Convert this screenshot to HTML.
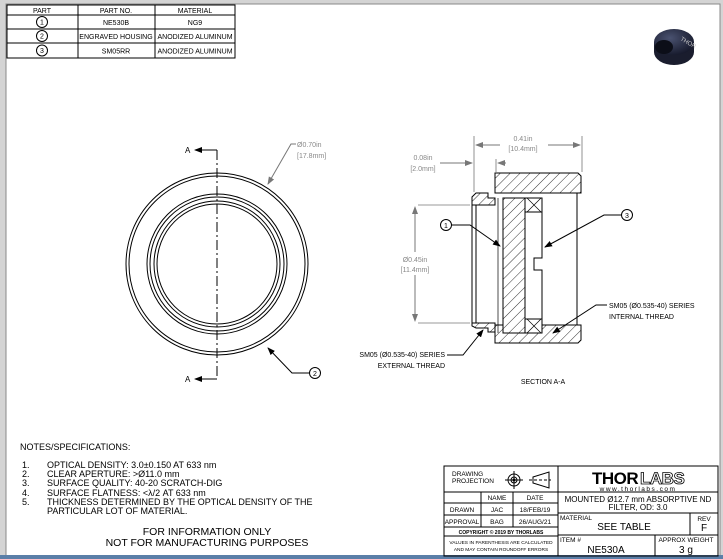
<!DOCTYPE html>
<html><head><meta charset="utf-8"><style>
html,body{margin:0;padding:0;background:#fff}
svg{display:block;font-family:"Liberation Sans",sans-serif}
</style></head><body>
<svg width="723" height="559" viewBox="0 0 723 559" xmlns="http://www.w3.org/2000/svg">
<defs>
<pattern id="h" patternUnits="userSpaceOnUse" width="7" height="7" patternTransform="rotate(45)">
<rect width="7" height="7" fill="#fff"/><line x1="0" y1="0" x2="0" y2="7" stroke="#000" stroke-width="0.8"/></pattern>
<marker id="ar" markerWidth="8" markerHeight="6" refX="7" refY="3" orient="auto" markerUnits="userSpaceOnUse"><path d="M0,0 L8,3 L0,6z" fill="#000"/></marker>
<marker id="ag" markerWidth="8" markerHeight="6" refX="7" refY="3" orient="auto" markerUnits="userSpaceOnUse"><path d="M0,0 L8,3 L0,6z" fill="#777"/></marker>
<radialGradient id="cyl" cx="0.4" cy="0.35" r="0.7"><stop offset="0" stop-color="#4a5270"/><stop offset="1" stop-color="#15182a"/></radialGradient>
</defs>
<rect width="723" height="559" fill="#d4d4d4"/>
<rect x="6" y="4" width="714" height="552" fill="#fff" stroke="#888" stroke-width="1"/>
<rect x="0" y="555" width="723" height="4" fill="#5b7fa8"/>

<g stroke="#000" stroke-width="1" fill="none">
<rect x="7" y="5" width="228" height="53"/>
<line x1="7" y1="15" x2="235" y2="15"/>
<line x1="7" y1="29" x2="235" y2="29"/>
<line x1="7" y1="43" x2="235" y2="43"/>
<line x1="78" y1="5" x2="78" y2="58"/>
<line x1="155" y1="5" x2="155" y2="58"/>
<circle cx="42" cy="22" r="5.5"/><circle cx="42" cy="36" r="5.5"/><circle cx="42" cy="50.5" r="5.5"/>
</g>
<g font-size="7" text-anchor="middle" fill="#000">
<text x="42" y="13">PART</text><text x="116" y="13">PART NO.</text><text x="195" y="13">MATERIAL</text>
<text x="42" y="24.5">1</text><text x="42" y="38.5">2</text><text x="42" y="53">3</text>
<text x="116" y="25">NE530B</text><text x="195" y="25">NG9</text>
<text x="116" y="39">ENGRAVED HOUSING</text><text x="195" y="39">ANODIZED ALUMINUM</text>
<text x="116" y="53.5">SM05RR</text><text x="195" y="53.5">ANODIZED ALUMINUM</text>
</g>

<ellipse cx="674" cy="52" rx="20" ry="13" fill="#1a1d2e"/>
<rect x="654" y="42" width="40" height="10" fill="#1a1d2e"/>
<ellipse cx="674" cy="42" rx="20" ry="13" fill="url(#cyl)"/>
<ellipse cx="664" cy="47" rx="9" ry="7" fill="#0c0e18"/>
<text x="680" y="40" font-size="6" fill="#ccc" transform="rotate(30 680 40)">THOR</text>

<g fill="none" stroke="#000" stroke-width="1">
<circle cx="217" cy="264" r="91"/>
<circle cx="217" cy="264" r="88"/>
<circle cx="217" cy="264" r="70"/>
<circle cx="217" cy="264" r="67"/>
<circle cx="217" cy="264" r="63"/>
<circle cx="217" cy="264" r="60"/>
</g>
<line x1="217" y1="150" x2="217" y2="379" stroke="#000" stroke-width="1" stroke-dasharray="10,3,2,3"/>
<line x1="217" y1="150" x2="195" y2="150" stroke="#000" marker-end="url(#ar)"/>
<line x1="217" y1="379" x2="195" y2="379" stroke="#000" marker-end="url(#ar)"/>
<text x="185" y="153" font-size="8">A</text><text x="185" y="382" font-size="8">A</text>
<polyline points="296,144 291,144 268,184" fill="none" stroke="#777" marker-end="url(#ag)"/>
<text x="297" y="147" font-size="7" fill="#888">Ø0.70in</text>
<text x="297" y="158" font-size="7" fill="#888">[17.8mm]</text>
<polyline points="309,373 292,373 268,348" fill="none" stroke="#000" marker-end="url(#ar)"/>
<circle cx="315" cy="373" r="5.5" fill="#fff" stroke="#000"/>
<text x="315" y="376" font-size="7" text-anchor="middle">2</text>

<g stroke="#000" stroke-width="1">
<path d="M495,173 H578 L581,176 V193 H495z" fill="url(#h)"/>
<path d="M495,325 H581 V340 L578,343 H495z" fill="url(#h)"/>
<path d="M476,193 H488 V198 H495 V205 H472 V197z" fill="url(#h)"/>
<path d="M472,323 H495 V332 H488 V328 H476 L472,326z" fill="url(#h)"/>
<path d="M495,173 V193 M495,325 V343" fill="none"/>
<path d="M503,198 H525 V333 H503z" fill="url(#h)"/>
<path d="M525,198 H542 V258 H534 V270 H542 V333 H525z" fill="#fff"/>
<path d="M527,198 L541,212 M541,198 L527,212 M527,333 L541,319 M541,333 L527,319" fill="none" stroke-width="0.7"/>
<line x1="525" y1="212" x2="542" y2="212"/><line x1="525" y1="319" x2="542" y2="319"/>
<line x1="472" y1="205" x2="472" y2="323"/>
<line x1="476" y1="205" x2="476" y2="323"/>
<line x1="577" y1="193" x2="577" y2="325"/>
<line x1="498" y1="198" x2="498" y2="333" stroke-width="0.7"/>
</g>
<g stroke="#777" stroke-width="0.8" fill="none">
<line x1="474" y1="136" x2="474" y2="192"/>
<line x1="582" y1="136" x2="582" y2="172"/>
<line x1="496" y1="159" x2="496" y2="172"/>
<line x1="418" y1="205" x2="470" y2="205"/>
<line x1="418" y1="323" x2="470" y2="323"/>
</g>
<line x1="500" y1="145" x2="476" y2="145" stroke="#777" marker-end="url(#ag)"/>
<line x1="548" y1="145" x2="580" y2="145" stroke="#777" marker-end="url(#ag)"/>
<text x="523" y="141" font-size="7" fill="#888" text-anchor="middle">0.41in</text>
<text x="523" y="151" font-size="7" fill="#888" text-anchor="middle">[10.4mm]</text>
<line x1="440" y1="163" x2="472" y2="163" stroke="#777" marker-end="url(#ag)"/>
<line x1="506" y1="163" x2="498" y2="163" stroke="#777" marker-end="url(#ag)"/>
<text x="423" y="160" font-size="7" fill="#888" text-anchor="middle">0.08in</text>
<text x="423" y="171" font-size="7" fill="#888" text-anchor="middle">[2.0mm]</text>
<line x1="415" y1="252" x2="415" y2="207" stroke="#777" marker-end="url(#ag)"/>
<line x1="415" y1="275" x2="415" y2="321" stroke="#777" marker-end="url(#ag)"/>
<text x="415" y="262" font-size="7" fill="#888" text-anchor="middle">Ø0.45in</text>
<text x="415" y="272" font-size="7" fill="#888" text-anchor="middle">[11.4mm]</text>
<polyline points="452,225 470,225 500,246" fill="none" stroke="#000" marker-end="url(#ar)"/>
<circle cx="446" cy="225" r="5.5" fill="#fff" stroke="#000"/><text x="446" y="228" font-size="7" text-anchor="middle">1</text>
<polyline points="621,215 604,215 545,247" fill="none" stroke="#000" marker-end="url(#ar)"/>
<circle cx="627" cy="215" r="5.5" fill="#fff" stroke="#000"/><text x="627" y="218" font-size="7" text-anchor="middle">3</text>
<polyline points="607,305 596,305 553,333" fill="none" stroke="#000" marker-end="url(#ar)"/>
<text x="609" y="308" font-size="7">SM05 (Ø0.535-40) SERIES</text>
<text x="609" y="319" font-size="7">INTERNAL THREAD</text>
<polyline points="447,355 463,355 483,330" fill="none" stroke="#000" marker-end="url(#ar)"/>
<text x="445" y="357" font-size="7" text-anchor="end">SM05 (Ø0.535-40) SERIES</text>
<text x="445" y="368" font-size="7" text-anchor="end">EXTERNAL THREAD</text>
<text x="543" y="384" font-size="7" text-anchor="middle">SECTION A-A</text>

<g font-size="9" fill="#000">
<text x="20" y="450">NOTES/SPECIFICATIONS:</text>
<text x="22" y="468">1.</text><text x="47" y="468">OPTICAL DENSITY: 3.0±0.150 AT 633 nm</text>
<text x="22" y="477">2.</text><text x="47" y="477">CLEAR APERTURE: &gt;Ø11.0 mm</text>
<text x="22" y="486">3.</text><text x="47" y="486">SURFACE QUALITY: 40-20 SCRATCH-DIG</text>
<text x="22" y="496">4.</text><text x="47" y="496">SURFACE FLATNESS: &lt;λ/2 AT 633 nm</text>
<text x="22" y="505">5.</text><text x="47" y="505">THICKNESS DETERMINED BY THE OPTICAL DENSITY OF THE</text>
<text x="47" y="514">PARTICULAR LOT OF MATERIAL.</text>
</g>
<text x="207" y="535" font-size="10.5" text-anchor="middle">FOR INFORMATION ONLY</text>
<text x="207" y="546" font-size="10.5" text-anchor="middle">NOT FOR MANUFACTURING PURPOSES</text>

<g stroke="#000" stroke-width="1" fill="none">
<rect x="444" y="466" width="274" height="90"/>
<line x1="558" y1="466" x2="558" y2="556"/>
<line x1="444" y1="492" x2="718" y2="492"/>
<line x1="444" y1="503" x2="558" y2="503"/>
<line x1="444" y1="515" x2="558" y2="515"/>
<line x1="444" y1="527" x2="558" y2="527"/>
<line x1="444" y1="536" x2="558" y2="536"/>
<line x1="481" y1="492" x2="481" y2="527"/>
<line x1="513" y1="492" x2="513" y2="527"/>
<line x1="558" y1="513" x2="718" y2="513"/>
<line x1="558" y1="535" x2="718" y2="535"/>
<line x1="690" y1="513" x2="690" y2="535"/>
<line x1="655" y1="535" x2="655" y2="556"/>
<circle cx="514" cy="480" r="6"/><circle cx="514" cy="480" r="3"/>
<line x1="505" y1="480" x2="523" y2="480"/><line x1="514" y1="471" x2="514" y2="489"/>
<path d="M533,477 L549,472 V488 L533,483z"/>
<line x1="529" y1="480" x2="551" y2="480" stroke-dasharray="3,2"/>
</g>
<circle cx="514" cy="480" r="1.5" fill="#000"/>
<g font-size="6.5" fill="#000">
<text x="452" y="476">DRAWING</text><text x="452" y="483">PROJECTION</text>
<text x="497" y="500" text-anchor="middle">NAME</text><text x="535" y="500" text-anchor="middle">DATE</text>
<text x="462" y="512" text-anchor="middle">DRAWN</text><text x="497" y="512" text-anchor="middle">JAC</text><text x="535" y="512" text-anchor="middle">18/FEB/19</text>
<text x="462" y="524" text-anchor="middle">APPROVAL</text><text x="497" y="524" text-anchor="middle">BAG</text><text x="535" y="524" text-anchor="middle">26/AUG/21</text>
<text x="501" y="534" text-anchor="middle" font-size="5" font-weight="bold">COPYRIGHT © 2019 BY THORLABS</text>
<text x="501" y="544" text-anchor="middle" font-size="4.8">VALUES IN PARENTHESIS ARE CALCULATED</text>
<text x="501" y="551" text-anchor="middle" font-size="4.8">AND MAY CONTAIN ROUNDOFF ERRORS</text>
<text x="560" y="520">MATERIAL</text><text x="560" y="542">ITEM #</text>
<text x="704" y="521" text-anchor="middle">REV</text><text x="686" y="542" text-anchor="middle">APPROX WEIGHT</text>
</g>
<text x="592" y="484" font-size="17" font-weight="bold" letter-spacing="-0.5">THOR</text>
<text x="640" y="484" font-size="17" font-weight="bold" fill="#fff" stroke="#000" stroke-width="0.8" letter-spacing="-0.5">LABS</text>
<text x="638" y="491" font-size="6.5" text-anchor="middle" letter-spacing="1.5">www.thorlabs.com</text>
<text x="638" y="502" font-size="8" text-anchor="middle">MOUNTED Ø12.7 mm ABSORPTIVE ND</text>
<text x="638" y="510" font-size="8" text-anchor="middle">FILTER, OD: 3.0</text>
<text x="624" y="530" font-size="10" text-anchor="middle">SEE TABLE</text>
<text x="704" y="531" font-size="10" text-anchor="middle">F</text>
<text x="606" y="553" font-size="10" text-anchor="middle">NE530A</text>
<text x="686" y="553" font-size="10" text-anchor="middle">3 g</text>
</svg>
</body></html>
